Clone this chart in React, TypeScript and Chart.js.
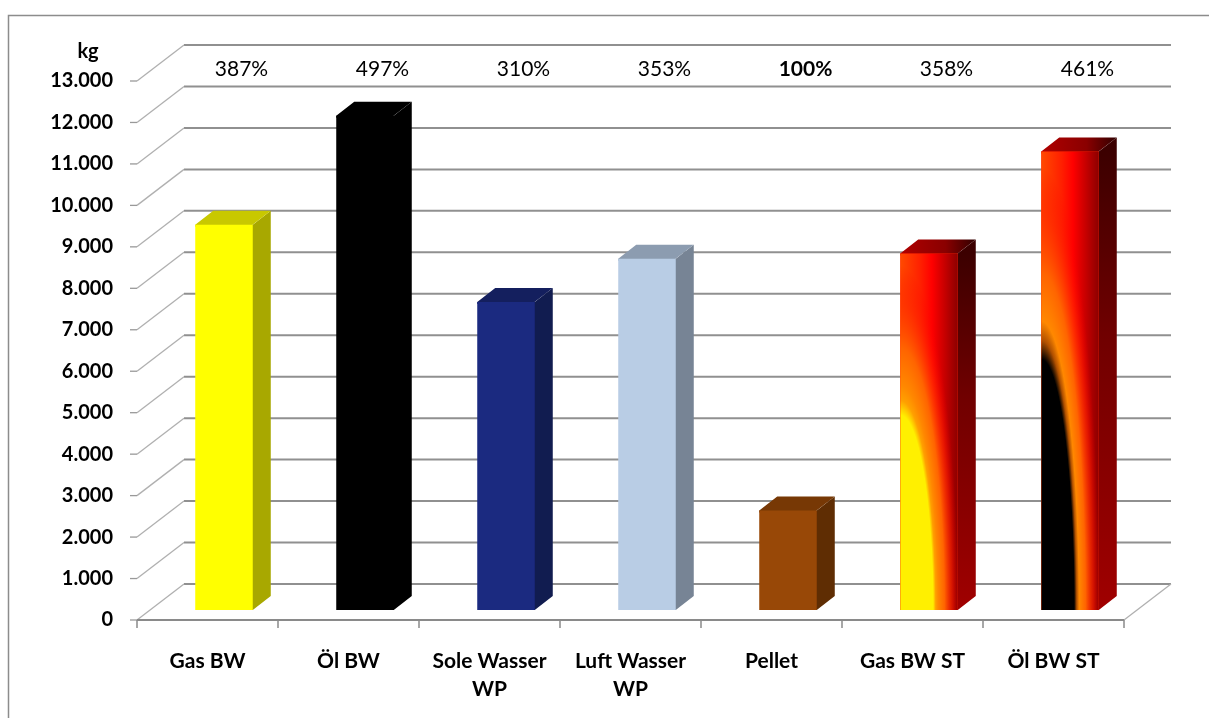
import React, { useEffect, useRef } from 'react';
import { Chart, registerables } from 'chart.js';

Chart.register(...registerables);

// ---- data ----
const categories: (string | string[])[] = ['Gas BW', 'Öl BW', ['Sole Wasser', 'WP'], ['Luft Wasser', 'WP'], 'Pellet', 'Gas BW ST', 'Öl BW ST'];
const co2Kg = [9290, 11920, 7430, 8470, 2400, 8600, 11060];
const percentLabels = ['387%', '497%', '310%', '353%', '100%', '358%', '461%'];
const percentBold = [false, false, false, false, true, false, false];
const yTickMax = 13000;
const yTickStep = 1000;
const unitLabel = 'kg';

// ---- styles ----
const frontColors = ['#FFFF00', '#000000', '#1B2A80', '#B9CDE5', '#984807', '#FF2000', '#FF2000'];
const topColors = ['#C8C800', '#000000', '#141F5E', '#8C9CB0', '#773805', null, null];
const sideColors = ['#A8A800', '#000000', '#111C50', '#778495', '#5F2D03', null, null];
const fireInner = [null, null, null, null, null, '#FFF000', '#000000'];

const FONT = 'Lato, "Open Sans", sans-serif';
const BACK = { dx: 47, dy: -36 };
const SHIFT = { dx: 16.5, dy: -10 };
const DEPTH = { dx: 18, dy: -14 };

function line(ctx: CanvasRenderingContext2D, x1: number, y1: number, x2: number, y2: number) {
  ctx.beginPath();
  ctx.moveTo(x1, y1);
  ctx.lineTo(x2, y2);
  ctx.stroke();
}

function drawFire(ctx: CanvasRenderingContext2D, xl: number, xr: number, yt: number, yb: number, inner: string) {
  const w = xr - xl, h = yb - yt;
  ctx.save();
  ctx.beginPath();
  ctx.rect(xl, yt, w, h);
  ctx.clip();
  const lg = ctx.createLinearGradient(xl, 0, xr, 0);
  lg.addColorStop(0, '#FF4A00');
  lg.addColorStop(0.35, '#FF2000');
  lg.addColorStop(0.55, '#FF0000');
  lg.addColorStop(0.8, '#C00000');
  lg.addColorStop(1, '#8C0000');
  ctx.fillStyle = lg;
  ctx.fillRect(xl, yt, w, h);
  const rx = w * 1.1, ry = h * 1.05;
  ctx.translate(xl, yb);
  ctx.scale(1, ry / rx);
  const rg = ctx.createRadialGradient(0, 0, 0, 0, 0, rx);
  const black = inner === '#000000';
  rg.addColorStop(0, inner);
  rg.addColorStop(0.52, inner);
  rg.addColorStop(0.56, black ? '#B05000' : '#FFA000');
  rg.addColorStop(0.6, '#FF8800');
  rg.addColorStop(0.7, 'rgba(255,100,0,1)');
  rg.addColorStop(0.82, 'rgba(255,40,0,0.55)');
  rg.addColorStop(0.92, 'rgba(255,0,0,0)');
  rg.addColorStop(1, 'rgba(255,0,0,0)');
  ctx.fillStyle = rg;
  ctx.fillRect(0, -rx, w, rx);
  ctx.restore();
}

function barBox(el: any) {
  const p = el.getProps(['x', 'y', 'base', 'width'], true);
  return {
    xl: p.x - p.width / 2 + SHIFT.dx,
    xr: p.x + p.width / 2 + SHIFT.dx,
    yt: p.y + SHIFT.dy,
    yb: p.base + SHIFT.dy,
  };
}

const threeDPlugin = {
  id: 'threeD',
  beforeDraw(chart: any) {
    const { ctx, chartArea: a, scales } = chart;
    const y = scales.y;
    ctx.save();
    ctx.fillStyle = '#FFFFFF';
    ctx.fillRect(0, 0, chart.width, chart.height);
    // frame
    ctx.strokeStyle = '#8C8C8C';
    ctx.lineWidth = 1.5;
    ctx.beginPath();
    ctx.moveTo(8.5, chart.height);
    ctx.lineTo(8.5, 15.5);
    ctx.lineTo(chart.width, 15.5);
    ctx.stroke();
    // back wall gridlines and left wall diagonals
    for (let v = 0; v <= yTickMax; v += yTickStep) {
      const fy = y.getPixelForValue(v);
      const by = fy + BACK.dy;
      ctx.strokeStyle = '#909090';
      ctx.lineWidth = 2;
      line(ctx, a.left + BACK.dx, by, a.right + BACK.dx, by);
      ctx.strokeStyle = '#B0B0B0';
      ctx.lineWidth = 1.3;
      line(ctx, a.left, fy, a.left + BACK.dx, by);
      ctx.strokeStyle = '#999999';
      line(ctx, a.left - 7, fy, a.left, fy);
    }
    // right floor edge
    ctx.strokeStyle = '#B0B0B0';
    ctx.lineWidth = 1.3;
    line(ctx, a.right, a.bottom, a.right + BACK.dx, a.bottom + BACK.dy);
    // front axis line and ticks
    ctx.strokeStyle = '#8A8A8A';
    ctx.lineWidth = 2;
    line(ctx, a.left, a.bottom, a.right, a.bottom);
    const n = categories.length;
    ctx.lineWidth = 1.5;
    for (let i = 0; i <= n; i++) {
      const xp = a.left + (i * (a.right - a.left)) / n;
      line(ctx, xp, a.bottom, xp, a.bottom + 8);
    }
    ctx.restore();
  },
  beforeDatasetsDraw(chart: any) {
    const { ctx } = chart;
    // side and top faces, drawn under the front faces (overlapping to avoid seams)
    const meta = chart.getDatasetMeta(0);
    meta.data.forEach((el: any, i: number) => {
      const { xl, xr, yt, yb } = barBox(el);
      ctx.save();
      let sideFill: any = sideColors[i];
      if (!sideFill) {
        const g = ctx.createLinearGradient(0, yt, 0, yb);
        g.addColorStop(0, '#3C0000');
        g.addColorStop(0.4, '#700000');
        g.addColorStop(1, '#A00000');
        sideFill = g;
      }
      ctx.fillStyle = sideFill;
      ctx.beginPath();
      ctx.moveTo(xr - 2, yt);
      ctx.lineTo(xr, yt);
      ctx.lineTo(xr + DEPTH.dx, yt + DEPTH.dy);
      ctx.lineTo(xr + DEPTH.dx, yb + DEPTH.dy);
      ctx.lineTo(xr, yb);
      ctx.lineTo(xr - 2, yb);
      ctx.closePath();
      ctx.fill();
      let topFill: any = topColors[i];
      if (!topFill) {
        const g = ctx.createLinearGradient(xl, 0, xr + DEPTH.dx, 0);
        g.addColorStop(0, '#B00000');
        g.addColorStop(0.6, '#8A0000');
        g.addColorStop(1, '#300000');
        topFill = g;
      }
      ctx.fillStyle = topFill;
      ctx.beginPath();
      ctx.moveTo(xl, yt + 2);
      ctx.lineTo(xl, yt);
      ctx.lineTo(xl + DEPTH.dx, yt + DEPTH.dy);
      ctx.lineTo(xr + DEPTH.dx, yt + DEPTH.dy);
      ctx.lineTo(xr - 0.5, yt + 0.3);
      ctx.lineTo(xr - 2, yt + 2);
      ctx.closePath();
      ctx.fill();
      ctx.restore();
    });
    ctx.save();
    ctx.translate(SHIFT.dx, SHIFT.dy);
  },
  afterDatasetsDraw(chart: any) {
    const { ctx, scales } = chart;
    ctx.restore();
    const meta = chart.getDatasetMeta(0);
    meta.data.forEach((el: any, i: number) => {
      if (!fireInner[i]) return;
      const { xl, xr, yt, yb } = barBox(el);
      drawFire(ctx, xl, xr, yt, yb, fireInner[i] as string);
    });
    // percentage labels
    const x = scales.x, y = scales.y;
    ctx.save();
    ctx.fillStyle = '#000000';
    ctx.textAlign = 'center';
    ctx.textBaseline = 'middle';
    percentLabels.forEach((t, i) => {
      ctx.font = `${percentBold[i] ? 'bold ' : ''}21px ${FONT}`;
      ctx.fillText(t, x.getPixelForValue(i) + 34, y.getPixelForValue(yTickMax) - 12);
    });
    ctx.font = `bold 20px ${FONT}`;
    ctx.fillText(unitLabel, 88, 52);
    ctx.restore();
  },
};

export default function App() {
  const ref = useRef<HTMLCanvasElement | null>(null);
  useEffect(() => {
    if (!ref.current) return;
    const chart = new Chart(ref.current, {
      type: 'bar',
      data: {
        labels: categories as any,
        datasets: [
          {
            data: co2Kg,
            backgroundColor: frontColors,
            borderWidth: 0,
            barPercentage: 0.408,
            categoryPercentage: 1,
            clip: false as any,
          },
        ],
      },
      options: {
        responsive: false,
        animation: false,
        devicePixelRatio: 1,
        layout: { padding: { left: 0, right: 85, top: 81, bottom: 0 } },
        plugins: { legend: { display: false }, tooltip: { enabled: false } },
        scales: {
          x: {
            grid: { display: false, drawTicks: false },
            border: { display: false },
            ticks: {
              padding: 27,
              color: '#000000',
              maxRotation: 0,
              autoSkip: false,
              font: { family: FONT, weight: 'bold', size: 21, lineHeight: 1.35 },
            },
            afterFit(s: any) {
              s.height = 98;
            },
          },
          y: {
            min: 0,
            max: yTickMax,
            grid: { display: false, drawTicks: false },
            border: { display: false },
            ticks: {
              stepSize: yTickStep,
              padding: 24,
              color: '#000000',
              font: { family: FONT, weight: 'bold', size: 20 },
              callback: (v: any) => String(v).replace(/\B(?=(\d{3})+(?!\d))/g, '.'),
            },
            afterFit(s: any) {
              s.width = 137;
            },
          },
        },
      },
      plugins: [threeDPlugin],
    });
    return () => chart.destroy();
  }, []);
  return (
    <div style={{ position: 'fixed', left: 0, top: 0, width: 1209, height: 718, background: '#fff' }}>
      <canvas ref={ref} width={1209} height={718} style={{ display: 'block' }} />
    </div>
  );
}
